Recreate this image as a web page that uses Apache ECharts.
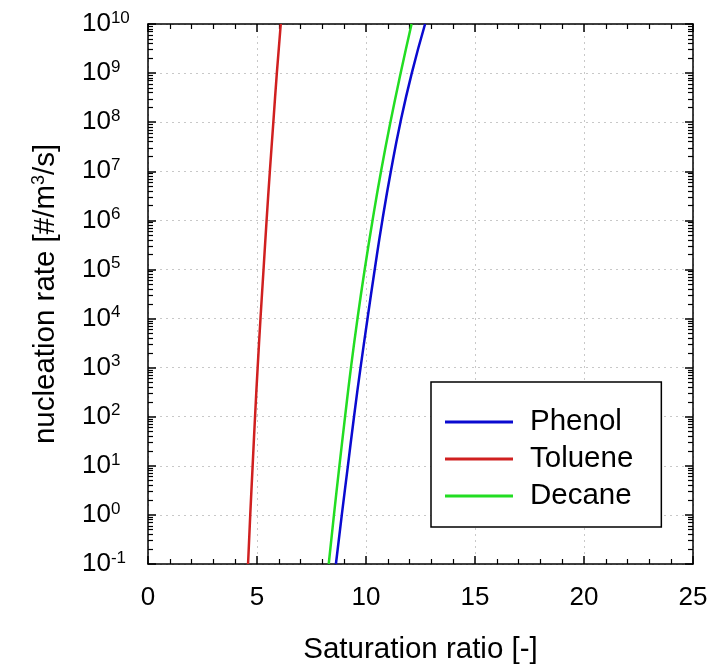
<!DOCTYPE html>
<html>
<head>
<meta charset="utf-8">
<script src="https://cdn.jsdelivr.net/npm/echarts@6/dist/echarts.min.js"></script>
<style>
html,body{margin:0;padding:0;background:#fff;}
#c{width:727px;height:670px;}
</style>
</head>
<body>
<div id="c"></div>
<script>
// nucleation rate levels (y) at which each curve's saturation ratio (x) was read
const rates = [0.1, 1, 10, 100, 1e3, 1e4, 1e5, 1e6, 1e7, 1e8, 1e9, 1e10];
const phenolS  = [8.62, 8.89, 9.17, 9.45, 9.75, 10.07, 10.40, 10.75, 11.14, 11.58, 12.10, 12.71];
const tolueneS = [4.59, 4.69, 4.80, 4.91, 5.03, 5.16, 5.30, 5.44, 5.59, 5.75, 5.91, 6.09];
const decaneS  = [8.29, 8.53, 8.78, 9.04, 9.31, 9.61, 9.94, 10.30, 10.69, 11.12, 11.59, 12.09];
const seriesNames = ['Phenol', 'Toluene', 'Decane'];
const xTicks = [0, 5, 10, 15, 20, 25];

const FONT = '"Liberation Sans", Arial, sans-serif';
const chart = echarts.init(document.getElementById('c'));

function pairs(xs) { return xs.map((x, i) => [x, rates[i]]); }

const axisLineStyle = { color: '#000', width: 1.5 };
const gridLine = { show: true, lineStyle: { color: '#c8c8c8', width: 1, type: [2, 4] } };

const option = {
  animation: false,
  backgroundColor: '#fff',
  grid: { left: 148, top: 24, right: 34, bottom: 102 },
  legend: {
    data: seriesNames,
    orient: 'vertical',
    left: 431,
    top: 382,
    padding: [25, 28, 16, 14],
    icon: 'rect',
    itemWidth: 68,
    itemHeight: 3,
    itemGap: 7,
    borderColor: '#000',
    borderWidth: 1.5,
    borderRadius: 0,
    backgroundColor: '#fff',
    textStyle: { fontFamily: FONT, fontSize: 29.5, lineHeight: 28, color: '#000', padding: [0, 0, 0, 12] }
  },
  xAxis: [
    {
      type: 'value', min: 0, max: 25, interval: 5,
      name: 'Saturation ratio [-]', nameLocation: 'middle', nameGap: 71,
      nameTextStyle: { fontFamily: FONT, fontSize: 29.5, color: '#000' },
      axisLine: { show: true, onZero: false, lineStyle: axisLineStyle },
      axisTick: { show: true, inside: true, length: 8, lineStyle: { color: '#000', width: 1.5 } },
      minorTick: { show: true, splitNumber: 5, length: 5, lineStyle: { color: '#000', width: 1.2 } },
      axisLabel: { fontFamily: FONT, fontSize: 26, color: '#000', margin: 21,
        formatter: v => String(v) },
      splitLine: gridLine
    },
    {
      type: 'value', min: 0, max: 25, interval: 5, position: 'top',
      axisLine: { show: true, onZero: false, lineStyle: axisLineStyle },
      axisTick: { show: true, inside: true, length: 8, lineStyle: { color: '#000', width: 1.5 } },
      minorTick: { show: true, splitNumber: 5, length: 5, lineStyle: { color: '#000', width: 1.2 } },
      axisLabel: { show: false },
      splitLine: { show: false }
    }
  ],
  yAxis: [
    {
      type: 'log', logBase: 10, min: 0.1, max: 1e10, interval: 1, splitNumber: 11,
      name: 'nucleation rate [#/m{sup|3}/s]', nameLocation: 'middle', nameGap: 86,
      nameTextStyle: { fontFamily: FONT, fontSize: 29.5, color: '#000',
        rich: { sup: { fontFamily: FONT, fontSize: 18, color: '#000', verticalAlign: 'top', padding: [0, 0, 14, 0] } } },
      axisLine: { show: true, onZero: false, lineStyle: axisLineStyle },
      axisTick: { show: true, inside: true, length: 8, lineStyle: { color: '#000', width: 1.5 } },
      minorTick: { show: true, splitNumber: 9, length: 5, lineStyle: { color: '#000', width: 1.2 } },
      axisLabel: {
        fontFamily: FONT, fontSize: 26, color: '#000', margin: 66, align: 'left',
        formatter: v => '{b|10}{s|' + Math.round(Math.log10(v)) + '}',
        rich: {
          b: { fontFamily: FONT, fontSize: 26, color: '#000' },
          s: { fontFamily: FONT, fontSize: 17, color: '#000', verticalAlign: 'top', padding: [0, 0, 12, 0] }
        }
      },
      splitLine: gridLine
    },
    {
      type: 'log', logBase: 10, min: 0.1, max: 1e10, interval: 1, splitNumber: 11, position: 'right',
      axisLine: { show: true, onZero: false, lineStyle: axisLineStyle },
      axisTick: { show: true, inside: true, length: 8, lineStyle: { color: '#000', width: 1.5 } },
      minorTick: { show: true, splitNumber: 9, length: 5, lineStyle: { color: '#000', width: 1.2 } },
      axisLabel: { show: false },
      splitLine: { show: false }
    }
  ],
  series: [
    { name: 'Phenol', type: 'line', data: pairs(phenolS), smooth: true, symbol: 'none',
      lineStyle: { color: '#0a0ad0', width: 2.5 }, itemStyle: { color: '#0a0ad0' } },
    { name: 'Toluene', type: 'line', data: pairs(tolueneS), smooth: true, symbol: 'none',
      lineStyle: { color: '#d02020', width: 2.5 }, itemStyle: { color: '#d02020' } },
    { name: 'Decane', type: 'line', data: pairs(decaneS), smooth: true, symbol: 'none',
      lineStyle: { color: '#22dd22', width: 2.5 }, itemStyle: { color: '#22dd22' } }
  ]
};
chart.setOption(option);
</script>
</body>
</html>
